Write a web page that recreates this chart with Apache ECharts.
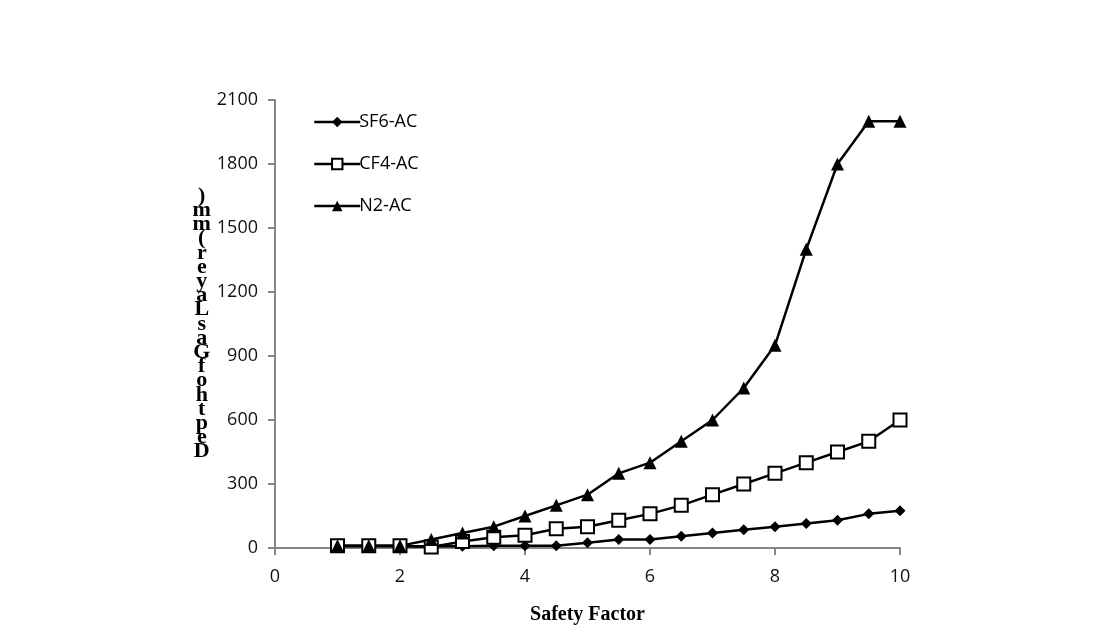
<!DOCTYPE html>
<html><head><meta charset="utf-8">
<script src="https://cdn.jsdelivr.net/npm/echarts@6/dist/echarts.min.js"></script>
<style>html,body{margin:0;padding:0;background:#fff}#c{width:1093px;height:642px}</style>
</head><body><div id="c"></div>
<script>
const safetyFactor = [1,1.5,2,2.5,3,3.5,4,4.5,5,5.5,6,6.5,7,7.5,8,8.5,9,9.5,10];
const sf6 = [8,8,8,8,8,10,10,10,25,40,40,55,70,85,100,115,130,160,175];
const cf4 = [10,10,10,5,30,50,60,90,100,130,160,200,250,300,350,400,450,500,600];
const n2  = [10,10,10,40,70,100,150,200,250,350,400,500,600,750,950,1400,1800,2000,2000];
const yTitle = "Depth of Gas Layer (mm)";
const xTitle = "Safety Factor";

const stacked = yTitle.replace(/ /g,'').split('').reverse().join('\n');
const pts = a => safetyFactor.map((x,i)=>[x,a[i]]);
const chart = echarts.init(document.getElementById('c'), null, {renderer:'canvas'});
const axisColor = '#868686';
const labelFont = 'Open Sans, Liberation Sans, sans-serif';
const base = {type:'line', lineStyle:{color:'#000',width:2.5}, itemStyle:{color:'#000'}, animation:false, z:3};
chart.setOption({
  backgroundColor:'#fff',
  grid:{left:275,right:193,top:100,bottom:94,containLabel:false},
  legend:{
    left:308, top:108, orient:'vertical', itemGap:24, itemWidth:46, itemHeight:13,
    lineStyle:{width:2.5, color:'#000'},
    textStyle:{fontFamily:labelFont, fontSize:18, color:'#000', padding:[0,0,0,-6]},
    data:['SF6-AC','CF4-AC','N2-AC']
  },
  xAxis:{
    type:'value', min:0, max:10, interval:2,
    name:xTitle, nameLocation:'middle', nameGap:57,
    nameTextStyle:{fontFamily:'Liberation Serif, serif', fontWeight:'bold', fontSize:20, color:'#000'},
    axisLine:{show:true, lineStyle:{color:axisColor, width:2}},
    axisTick:{show:true, length:7, lineStyle:{color:axisColor, width:2}},
    axisLabel:{fontFamily:labelFont, fontSize:18, color:'#111', margin:20},
    splitLine:{show:false}
  },
  yAxis:{
    type:'value', min:0, max:2100, interval:300,
    name:stacked, nameLocation:'middle', nameRotate:0, nameGap:67,
    nameTextStyle:{fontFamily:'Liberation Serif, serif', fontWeight:'bold', fontSize:22, color:'#000', lineHeight:14.2, align:'center', verticalAlign:'middle'},
    axisLine:{show:true, lineStyle:{color:axisColor, width:2}},
    axisTick:{show:true, length:7, lineStyle:{color:axisColor, width:2}},
    axisLabel:{fontFamily:labelFont, fontSize:18, color:'#111', margin:17, formatter: v => String(v)},
    splitLine:{show:false}
  },
  series:[
    Object.assign({}, base, {name:'SF6-AC', data:pts(sf6), symbol:'diamond', symbolSize:11}),
    Object.assign({}, base, {name:'CF4-AC', data:pts(cf4), symbol:'rect', symbolSize:13,
      itemStyle:{color:'#fff', borderColor:'#000', borderWidth:2}}),
    Object.assign({}, base, {name:'N2-AC', data:pts(n2), symbol:'triangle', symbolSize:13})
  ]
});
</script></body></html>
